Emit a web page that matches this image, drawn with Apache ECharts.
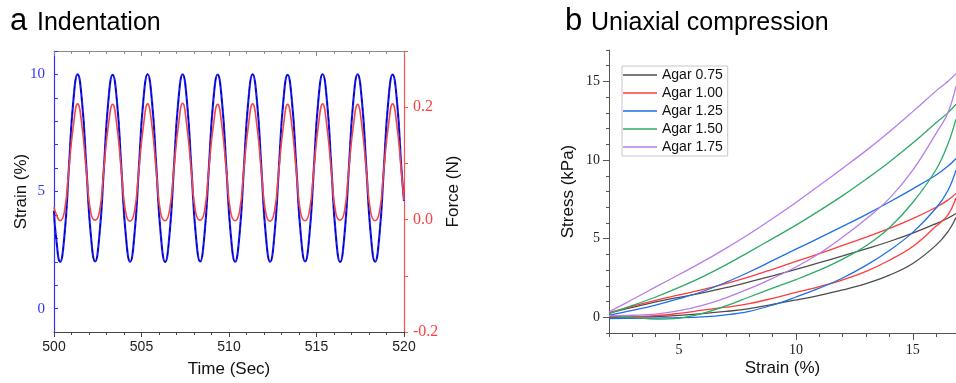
<!DOCTYPE html>
<html>
<head>
<meta charset="utf-8">
<title>Indentation / Uniaxial compression</title>
<script src="https://cdn.jsdelivr.net/npm/echarts@6.0.0/dist/echarts.min.js"></script>
<style>
  html, body { margin: 0; padding: 0; background: #fff; }
  #chart { width: 956px; height: 383px; }
</style>
</head>
<body>
<div id="chart"></div>
<script>
  // a: indentation, strain (left axis) and force (right axis) against time
  var timeSec = [500,
    500.1, 500.35, 500.6, 500.85, 501.1, 501.35, 501.6, 501.85,
    502.1, 502.35, 502.6, 502.85, 503.1, 503.35, 503.6, 503.85,
    504.1, 504.35, 504.6, 504.85, 505.1, 505.35, 505.6, 505.85,
    506.1, 506.35, 506.6, 506.85, 507.1, 507.35, 507.6, 507.85,
    508.1, 508.35, 508.6, 508.85, 509.1, 509.35, 509.6, 509.85,
    510.1, 510.35, 510.6, 510.85, 511.1, 511.35, 511.6, 511.85,
    512.1, 512.35, 512.6, 512.85, 513.1, 513.35, 513.6, 513.85,
    514.1, 514.35, 514.6, 514.85, 515.1, 515.35, 515.6, 515.85,
    516.1, 516.35, 516.6, 516.85, 517.1, 517.35, 517.6, 517.85,
    518.1, 518.35, 518.6, 518.85, 519.1, 519.35, 519.6, 519.85,
    520];
  var strainPct = [4.18,
    3.17, 2.00, 3.15, 6.00, 8.83, 10.00, 8.85, 6.02,
    3.18, 2.01, 3.17, 5.98, 8.82, 9.98, 8.83, 6.00,
    3.16, 2.00, 3.18, 6.01, 8.84, 10.01, 8.84, 6.01,
    3.17, 1.99, 3.16, 6.00, 8.83, 10.00, 8.82, 5.99,
    3.18, 2.01, 3.17, 6.02, 8.85, 9.99, 8.83, 6.00,
    3.17, 2.00, 3.15, 5.99, 8.83, 10.00, 8.84, 6.01,
    3.16, 2.00, 3.17, 6.00, 8.82, 9.98, 8.83, 6.00,
    3.18, 2.01, 3.18, 6.01, 8.84, 10.01, 8.85, 6.02,
    3.17, 1.99, 3.16, 6.00, 8.83, 10.00, 8.83, 5.99,
    3.17, 2.00, 3.17, 6.00, 8.83, 9.99, 8.84, 6.00,
    4.6];
  var forceN = [0.022,
    0.012, -0.002, 0.015, 0.090, 0.165, 0.206, 0.166, 0.085,
    0.013, -0.001, 0.014, 0.091, 0.166, 0.205, 0.165, 0.086,
    0.012, -0.003, 0.015, 0.089, 0.164, 0.206, 0.166, 0.084,
    0.011, -0.002, 0.016, 0.090, 0.165, 0.207, 0.164, 0.085,
    0.012, -0.001, 0.015, 0.091, 0.166, 0.205, 0.165, 0.086,
    0.013, -0.002, 0.014, 0.090, 0.165, 0.206, 0.166, 0.085,
    0.012, -0.003, 0.015, 0.089, 0.164, 0.205, 0.165, 0.084,
    0.011, -0.002, 0.016, 0.090, 0.166, 0.206, 0.164, 0.085,
    0.012, -0.001, 0.015, 0.091, 0.165, 0.205, 0.165, 0.086,
    0.013, -0.002, 0.014, 0.090, 0.165, 0.206, 0.166, 0.085,
    0.035];

  // b: uniaxial compression, upper and lower branch of every loop
  var strainAxis = [2, 3, 4, 5, 6, 7, 8, 9, 10, 11, 12, 13, 14, 15, 16, 16.5, 16.85];
  var agar075Up = [0.27, 0.63, 0.98, 1.27, 1.55, 1.88, 2.25, 2.64, 3.05, 3.47, 3.90, 4.35, 4.82, 5.35, 5.96, 6.30, 6.60];
  var agar075Lo = [0.00, 0.02, 0.05, 0.12, 0.23, 0.37, 0.55, 0.82, 1.10, 1.40, 1.74, 2.14, 2.68, 3.42, 4.59, 5.43, 6.35];
  var agar100Up = [0.30, 0.70, 1.08, 1.42, 1.76, 2.14, 2.57, 3.05, 3.55, 4.05, 4.57, 5.10, 5.65, 6.27, 7.00, 7.45, 7.88];
  var agar100Lo = [0.02, 0.05, 0.10, 0.25, 0.45, 0.64, 0.87, 1.20, 1.58, 1.95, 2.38, 2.92, 3.63, 4.50, 5.80, 6.50, 7.60];
  var agar125Up = [0.13, 0.44, 0.78, 1.18, 1.64, 2.22, 2.88, 3.60, 4.33, 5.05, 5.78, 6.53, 7.33, 8.17, 9.05, 9.60, 10.10];
  var agar125Lo = [-0.08, -0.07, -0.05, -0.03, 0.02, 0.15, 0.38, 0.78, 1.29, 1.85, 2.50, 3.30, 4.25, 5.40, 6.95, 8.05, 9.36];
  var agar150Up = [0.23, 0.75, 1.29, 1.90, 2.57, 3.33, 4.16, 5.00, 5.86, 6.78, 7.74, 8.78, 9.88, 11.08, 12.38, 13.00, 13.55];
  var agar150Lo = [0.10, 0.00, -0.12, -0.05, 0.25, 0.72, 1.29, 1.85, 2.40, 3.00, 3.70, 4.55, 5.70, 7.30, 9.40, 11.00, 12.60];
  var agar175Up = [0.34, 1.13, 1.93, 2.72, 3.52, 4.38, 5.30, 6.28, 7.30, 8.38, 9.48, 10.60, 11.80, 13.08, 14.40, 15.00, 15.50];
  var agar175Lo = [0.10, 0.13, 0.20, 0.42, 0.76, 1.24, 1.82, 2.48, 3.20, 4.06, 5.10, 6.25, 7.56, 9.36, 11.70, 13.00, 14.70];

  var agarNames = ['Agar 0.75', 'Agar 1.00', 'Agar 1.25', 'Agar 1.50', 'Agar 1.75'];
  var agarColors = ['#4d4d4d', '#ff3b3b', '#1f6fe5', '#2eaa66', '#b57ee8'];
  var agarUp = [agar075Up, agar100Up, agar125Up, agar150Up, agar175Up];
  var agarLo = [agar075Lo, agar100Lo, agar125Lo, agar150Lo, agar175Lo];

  var sans = '"Liberation Sans", Arial, sans-serif';
  var serif = '"Liberation Serif", "Times New Roman", serif';

  function pairs(xs, ys) {
    return xs.map(function (x, i) { return [x, ys[i]]; });
  }

  var myChart = echarts.init(document.getElementById('chart'));

  var series = [
    {
      type: 'line', xAxisIndex: 0, yAxisIndex: 0, data: pairs(timeSec, strainPct),
      smooth: true, showSymbol: false, color: '#1a1aff', lineStyle: {width: 2.1, color: '#1a1aff'}
    },
    {
      type: 'line', xAxisIndex: 0, yAxisIndex: 0, data: pairs(timeSec, strainPct),
      smooth: true, showSymbol: false, lineStyle: {width: 1, color: '#000070', type: [4, 4]}
    },
    {
      type: 'line', xAxisIndex: 0, yAxisIndex: 1, data: pairs(timeSec, forceN),
      smooth: true, showSymbol: false, lineStyle: {width: 1.6, color: '#f24848'}
    }
  ];
  agarNames.forEach(function (name, i) {
    [agarUp[i], agarLo[i]].forEach(function (vals) {
      series.push({
        name: name, type: 'line', xAxisIndex: 2, yAxisIndex: 2,
        data: pairs(strainAxis, vals), smooth: 0.4,
        showSymbol: false, color: agarColors[i],
        lineStyle: {width: 1.3, color: agarColors[i]}
      });
    });
  });

  var option = {
    animation: false,
    backgroundColor: '#fff',
    grid: [
      {left: 54, top: 51, width: 350, height: 281},
      {left: 609, top: 50, width: 347, height: 283}
    ],
    graphic: [
      {type: 'text', left: 10, top: 6, style: {text: 'a', font: '31px ' + sans, fill: '#000'}},
      {type: 'text', left: 37, top: 11, style: {text: 'Indentation', font: '25px ' + sans, fill: '#000'}},
      {type: 'text', left: 565, top: 6, style: {text: 'b', font: '31px ' + sans, fill: '#000'}},
      {type: 'text', left: 591, top: 11, style: {text: 'Uniaxial compression', font: '25px ' + sans, fill: '#000'}}
    ],
    legend: {
      data: agarNames, orient: 'vertical', left: 622, top: 66,
      icon: 'rect', itemWidth: 34, itemHeight: 1.6, itemGap: 4,
      selectedMode: false,
      borderColor: '#c8c8c8', borderWidth: 1, padding: [2, 5, 2, 1],
      textStyle: {fontSize: 14, lineHeight: 14, fontFamily: sans, color: '#111'}
    },
    xAxis: [
      {
        gridIndex: 0, type: 'value', position: 'bottom', min: 500, max: 520, interval: 5,
        name: 'Time (Sec)', nameLocation: 'middle', nameGap: 29, nameMoveOverlap: false,
        nameTextStyle: {fontSize: 17, fontFamily: sans, color: '#111'},
        axisLine: {onZero: false, lineStyle: {color: '#444', width: 1}},
        axisTick: {inside: false, length: 5, lineStyle: {color: '#444'}},
        minorTick: {show: true, splitNumber: 5, length: 3, lineStyle: {color: '#444'}},
        axisLabel: {fontSize: 14, fontFamily: sans, color: '#222', margin: 8},
        splitLine: {show: false}
      },
      {
        gridIndex: 0, type: 'value', position: 'top', min: 500, max: 520, interval: 5,
        axisLine: {onZero: false, lineStyle: {color: '#8a8a8a', width: 1}},
        axisTick: {inside: true, length: 5, lineStyle: {color: '#8a8a8a'}},
        minorTick: {show: true, splitNumber: 5, length: 3, lineStyle: {color: '#8a8a8a'}},
        axisLabel: {show: false}, splitLine: {show: false}
      },
      {
        gridIndex: 1, type: 'value', position: 'bottom', min: 2, max: 16.85, interval: 1,
        name: 'Strain (%)', nameLocation: 'middle', nameGap: 27, nameMoveOverlap: false,
        nameTextStyle: {fontSize: 17, fontFamily: sans, color: '#111'},
        axisLine: {onZero: false, lineStyle: {color: '#555', width: 1}},
        axisTick: {inside: false, length: 4, lineStyle: {color: '#555'}},
        axisLabel: {
          fontSize: 14, fontFamily: serif, color: '#222', margin: 10, showMaxLabel: false,
          formatter: function (v) { return v % 5 === 0 ? String(v) : ''; }
        },
        splitLine: {show: false}
      },
      {
        gridIndex: 1, type: 'value', position: 'bottom', min: 2, max: 16.85,
        axisLine: {show: false, onZero: false},
        axisTick: {inside: false, length: 7, customValues: [5, 10, 15], lineStyle: {color: '#555'}},
        axisLabel: {show: false}, splitLine: {show: false}
      }
    ],
    yAxis: [
      {
        gridIndex: 0, type: 'value', position: 'left', min: -1, max: 11, interval: 1,
        name: 'Strain (%)', nameLocation: 'middle', nameGap: 24, nameMoveOverlap: false,
        nameTextStyle: {fontSize: 17, fontFamily: sans, color: '#111'},
        axisLine: {onZero: false, lineStyle: {color: '#3333ff', width: 1.2}},
        axisTick: {inside: true, length: 4, lineStyle: {color: '#3333ff'}},
        axisLabel: {
          fontSize: 15, fontFamily: serif, color: '#3333ff', margin: 9,
          formatter: function (v) { return v % 5 === 0 ? String(v) : ''; }
        },
        splitLine: {show: false}
      },
      {
        gridIndex: 0, type: 'value', position: 'right', min: -0.2, max: 0.3, interval: 0.1,
        name: 'Force (N)', nameLocation: 'middle', nameGap: 41, nameMoveOverlap: false,
        nameTextStyle: {fontSize: 17, fontFamily: sans, color: '#111'},
        axisLine: {onZero: false, lineStyle: {color: '#ff5050', width: 1.2}},
        axisTick: {inside: false, length: 4, lineStyle: {color: '#ff5050'}},
        axisLabel: {
          fontSize: 16, fontFamily: serif, color: '#ff4040', margin: 9,
          formatter: function (v) {
            var k = Math.round(v * 10);
            return (k % 2 === 0 && k < 3) ? v.toFixed(1) : '';
          }
        },
        splitLine: {show: false}
      },
      {
        gridIndex: 1, type: 'value', position: 'left', min: -1, max: 17, interval: 1,
        name: 'Stress (kPa)', nameLocation: 'middle', nameGap: 32, nameMoveOverlap: false,
        nameTextStyle: {fontSize: 17, fontFamily: sans, color: '#111'},
        axisLine: {onZero: false, lineStyle: {color: '#555', width: 1}},
        axisTick: {inside: false, length: 3, lineStyle: {color: '#555'}},
        axisLabel: {
          fontSize: 14, fontFamily: serif, color: '#222', margin: 9,
          formatter: function (v) { return v % 5 === 0 ? String(v) : ''; }
        },
        splitLine: {show: false}
      },
      {
        gridIndex: 1, type: 'value', position: 'left', min: -1, max: 17,
        axisLine: {show: false, onZero: false},
        axisTick: {inside: false, length: 6, customValues: [0, 5, 10, 15], lineStyle: {color: '#555'}},
        axisLabel: {show: false}, splitLine: {show: false}
      }
    ],
    series: series
  };

  myChart.setOption(option);
  window.addEventListener('resize', function () { myChart.resize(); });
</script>
</body>
</html>
